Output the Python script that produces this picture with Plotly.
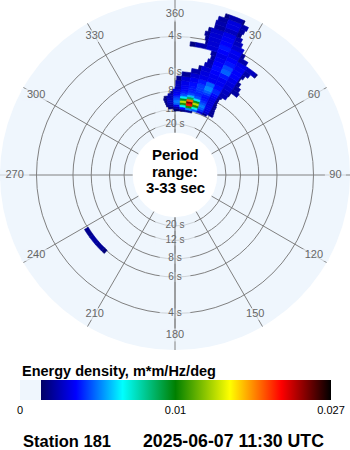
import math
import plotly.graph_objects as go

# ---------------------------------------------------------------------------
# Directional wave spectrum, Station 181
# ---------------------------------------------------------------------------
# Frequency band edges (Hz)
freq_edges = [0.080, 0.085, 0.090, 0.095, 0.100, 0.105, 0.110, 0.115, 0.120,
              0.125, 0.130, 0.135, 0.140, 0.150, 0.160, 0.170, 0.180, 0.190,
              0.200, 0.210, 0.220, 0.230, 0.240, 0.250, 0.260, 0.270, 0.280,
              0.290, 0.300, 0.310, 0.320]

# Directional extent of the energy in each band (deg, clockwise from north)
band_start = [-1, -5.5, -7, -7.5, -8, -8.5, -8, -5, -3, -1.5, 0, 0.5,
              0.5, 1, 4, 9, 12.5, 15, 16, 17, 16.5, 6.6, 13, 12.5, 12, 13,
              15, 15, 15.5, 17.5]
band_end = [15, 28, 33, 32.5, 32, 31.5, 31.5, 31, 30.5, 30.5, 30.5, 31.5,
            34, 34.5, 38.5, 37.5, 36, 34.5, 35.5, 37, 39.5, 33, 30.5, 29, 27.5,
            26.5, 25.5, 26, 26.5, 24.5]

# Energy density in 5-degree direction bins (bin edges at -1, 4, 9, ...),
# one row per band, units of 1e-4 m*m/Hz/deg
band_values = [
    [20, 24, 28, 22],
    [22, 30, 50, 72, 62, 40, 26],
    [22, 30, 44, 88, 140, 92, 56, 40, 26],
    [24, 34, 64, 140, 225, 140, 64, 42, 28],
    [26, 36, 68, 170, 250, 170, 68, 44, 28],
    [26, 36, 62, 130, 210, 130, 62, 44, 28],
    [22, 34, 56, 85, 120, 85, 56, 42, 28],
    [32, 48, 62, 78, 62, 52, 42, 26],
    [28, 45, 54, 60, 56, 50, 42, 26],
    [24, 42, 50, 54, 54, 52, 44, 26],
    [36, 46, 52, 56, 58, 46, 28],
    [36, 46, 52, 58, 64, 50, 30],
    [34, 44, 50, 58, 70, 55, 34],
    [26, 40, 46, 52, 64, 50, 36, 22],
    [28, 40, 44, 46, 46, 40, 30],
    [32, 42, 46, 46, 42, 30],
    [26, 40, 48, 52, 44, 28],
    [34, 50, 64, 48, 26],
    [32, 48, 60, 48, 28],
    [30, 46, 52, 46, 32],
    [30, 44, 48, 44, 36, 22],
    [24, 32, 40, 48, 44, 32],
    [28, 40, 52, 46, 28],
    [28, 40, 48, 40],
    [28, 40, 46, 36],
    [26, 38, 44, 34],
    [30, 36, 26],
    [32, 42, 30],
    [30, 42, 32],
    [24, 32, 22],
]
ENERGY_UNIT = 1e-4
DIR_ORIGIN, DIR_STEP = -1, 5

# Small south-west swell patch (one band)
swell_band = [0.165, 0.175]
swell_start, swell_end = 222, 239
swell_values = [22, 28, 30, 26]

# Period rings (s) and compass labels
period_rings = [20, 12, 8, 6, 4]
period_labels = ["20 s", "12 s", "8 s", "6 s", "4 s"]
compass_ticks = [0, 30, 60, 90, 120, 150, 180, 210, 240, 270, 300, 330]
compass_labels = ["360", "30", "60", "90", "120", "150", "180", "210", "240",
                  "270", "300", "330"]

station_text = "Station 181"
time_text = "2025-06-07 11:30 UTC"
cbar_title = "Energy density, m*m/Hz/deg"
cbar_tickvals = [0, 0.0135, 0.027]
cbar_ticktext = ["0", "0.01", "0.027"]

E_MAX = 0.027
F_MIN, F_MAX = 1 / 33, 1 / 3          # period range 3-33 s
HOLE = 42.3 / 175
LABEL_F = 0.30                        # radius of compass labels (Hz)

BG = "#EFF6FD"
GRID = "#808080"
TXT_GREY = "#666666"
W, H = 350, 450
POLAR_Y = [1 - 350 / H, 1]

colorscale = [
    [0.0, BG], [0.068, BG],
    [0.068, "#000066"], [0.18, "#0000FF"], [0.33, "#00FFFF"],
    [0.50, "#008000"], [0.675, "#FFFF00"], [0.84, "#FF0000"], [1.0, "#000000"],
]

# Build the spectral cells
c_theta, c_width, c_base, c_len, c_val = [], [], [], [], []


def add_band(f_lo, f_hi, start, end, values):
    k0 = math.floor((start - DIR_ORIGIN) / DIR_STEP)
    k1 = math.ceil((end - DIR_ORIGIN) / DIR_STEP) - 1
    assert k1 - k0 + 1 == len(values), (f_lo, k0, k1, len(values))
    for k, v in zip(range(k0, k1 + 1), values):
        a = max(start, DIR_ORIGIN + k * DIR_STEP)
        b = min(end, DIR_ORIGIN + (k + 1) * DIR_STEP)
        c_theta.append((a + b) / 2)
        c_width.append(b - a)
        c_base.append(f_lo)
        c_len.append(f_hi - f_lo)
        c_val.append(v * ENERGY_UNIT)


for f_lo, f_hi, s, e, vals in zip(freq_edges[:-1], freq_edges[1:], band_start,
                                  band_end, band_values):
    add_band(f_lo, f_hi, s, e, vals)
add_band(swell_band[0], swell_band[1], swell_start, swell_end, swell_values)

fig = go.Figure()

# --- background subplot: label masks, spoke, labels -----------------------
label_font = dict(family="Liberation Sans, Arial, sans-serif", size=11, color=TXT_GREY)

fig.add_trace(go.Scatterpolar(
    r=[LABEL_F] * len(compass_ticks), theta=compass_ticks, mode="markers",
    marker=dict(symbol="line-ew", size=[6 * len(t) + 3 for t in compass_labels],
                line=dict(color=BG, width=12)),
    hoverinfo="skip", showlegend=False, subplot="polar"))

period_f = [1 / p for p in period_rings]
fig.add_trace(go.Scatterpolar(
    r=period_f + period_f, theta=[0] * len(period_f) + [180] * len(period_f),
    mode="markers",
    marker=dict(symbol="line-ew", size=[6 * len(t) + 4 for t in period_labels] * 2,
                line=dict(color=BG, width=10)),
    hoverinfo="skip", showlegend=False, subplot="polar"))

# north-south spoke through the period labels
fig.add_trace(go.Scatterpolar(
    r=[F_MIN, 0.283, None, F_MIN, 0.283], theta=[0, 0, None, 180, 180],
    mode="lines", line=dict(color=GRID, width=1),
    hoverinfo="skip", showlegend=False, subplot="polar"))

fig.add_trace(go.Scatterpolar(
    r=[LABEL_F] * len(compass_ticks), theta=compass_ticks, mode="text",
    text=compass_labels, textfont=label_font, textposition="middle center",
    hoverinfo="skip", showlegend=False, subplot="polar"))

fig.add_trace(go.Scatterpolar(
    r=period_f + period_f, theta=[0] * len(period_f) + [180] * len(period_f),
    mode="text", text=period_labels + period_labels,
    textfont=dict(family="Liberation Sans, Arial, sans-serif", size=10, color=TXT_GREY),
    textposition="middle center",
    hoverinfo="skip", showlegend=False, subplot="polar"))

# --- foreground subplot: energy density -----------------------------------
fig.add_trace(go.Barpolar(
    r=c_len, base=c_base, theta=c_theta, width=c_width,
    marker=dict(
        color=c_val, colorscale=colorscale, cmin=0, cmax=E_MAX, showscale=True,
        line=dict(width=0.6, color=c_val, colorscale=colorscale, cmin=0, cmax=E_MAX),
        colorbar=dict(
            orientation="h", x=20 / W, xanchor="left", len=311 / W, lenmode="fraction",
            y=1 - 380 / H, yanchor="top", thickness=20, xpad=0, ypad=0,
            outlinewidth=0, ticks="", tickvals=cbar_tickvals, ticktext=cbar_ticktext,
            tickfont=dict(family="Liberation Sans, Arial, sans-serif", size=11, color="black"),
        ),
    ),
    hoverinfo="skip", showlegend=False, subplot="polar2"))

hidden_axis = dict(showgrid=False, showline=False, showticklabels=False, ticks="")

fig.update_layout(
    width=W, height=H, margin=dict(l=0, r=0, t=0, b=0),
    paper_bgcolor="white", plot_bgcolor="white",
    polar=dict(
        domain=dict(x=[0, 1], y=POLAR_Y), hole=HOLE, bgcolor=BG,
        radialaxis=dict(range=[F_MIN, F_MAX], tickvals=period_f, showticklabels=False,
                        ticks="", showline=False, gridcolor=GRID, gridwidth=1),
        angularaxis=dict(direction="clockwise", rotation=90, tickvals=compass_ticks,
                         showticklabels=False, ticks="", showline=False,
                         gridcolor=GRID, gridwidth=1),
    ),
    polar2=dict(
        domain=dict(x=[0, 1], y=POLAR_Y), hole=HOLE, bgcolor="rgba(0,0,0,0)",
        radialaxis=dict(range=[F_MIN, F_MAX], **hidden_axis),
        angularaxis=dict(direction="clockwise", rotation=90, **hidden_axis),
    ),
)

bold = "Liberation Sans, Arial, sans-serif"
center_lines = [("Period", 154.5), ("range:", 171.2), ("3-33 sec", 187.8)]
for txt, ypx in center_lines:
    fig.add_annotation(text=f"<b>{txt}</b>", x=0.5, y=1 - ypx / H, xref="paper",
                       yref="paper", showarrow=False, xanchor="center", yanchor="middle",
                       font=dict(family=bold, size=15, color="black"))

fig.add_annotation(text=f"<b>{cbar_title}</b>", x=20 / W, y=1 - 371 / H, xref="paper",
                   yref="paper", showarrow=False, xanchor="left", yanchor="middle",
                   font=dict(family=bold, size=14.5, color="black"))
fig.add_annotation(text=f"<b>{station_text}</b>", x=21 / W, y=1 - 441 / H, xref="paper",
                   yref="paper", showarrow=False, xanchor="left", yanchor="middle",
                   font=dict(family=bold, size=16.5, color="black"))
fig.add_annotation(text=f"<b>{time_text}</b>", x=141 / W, y=1 - 441 / H, xref="paper",
                   yref="paper", showarrow=False, xanchor="left", yanchor="middle",
                   font=dict(family=bold, size=17.7, color="black"))

fig.write_html("out.html")
